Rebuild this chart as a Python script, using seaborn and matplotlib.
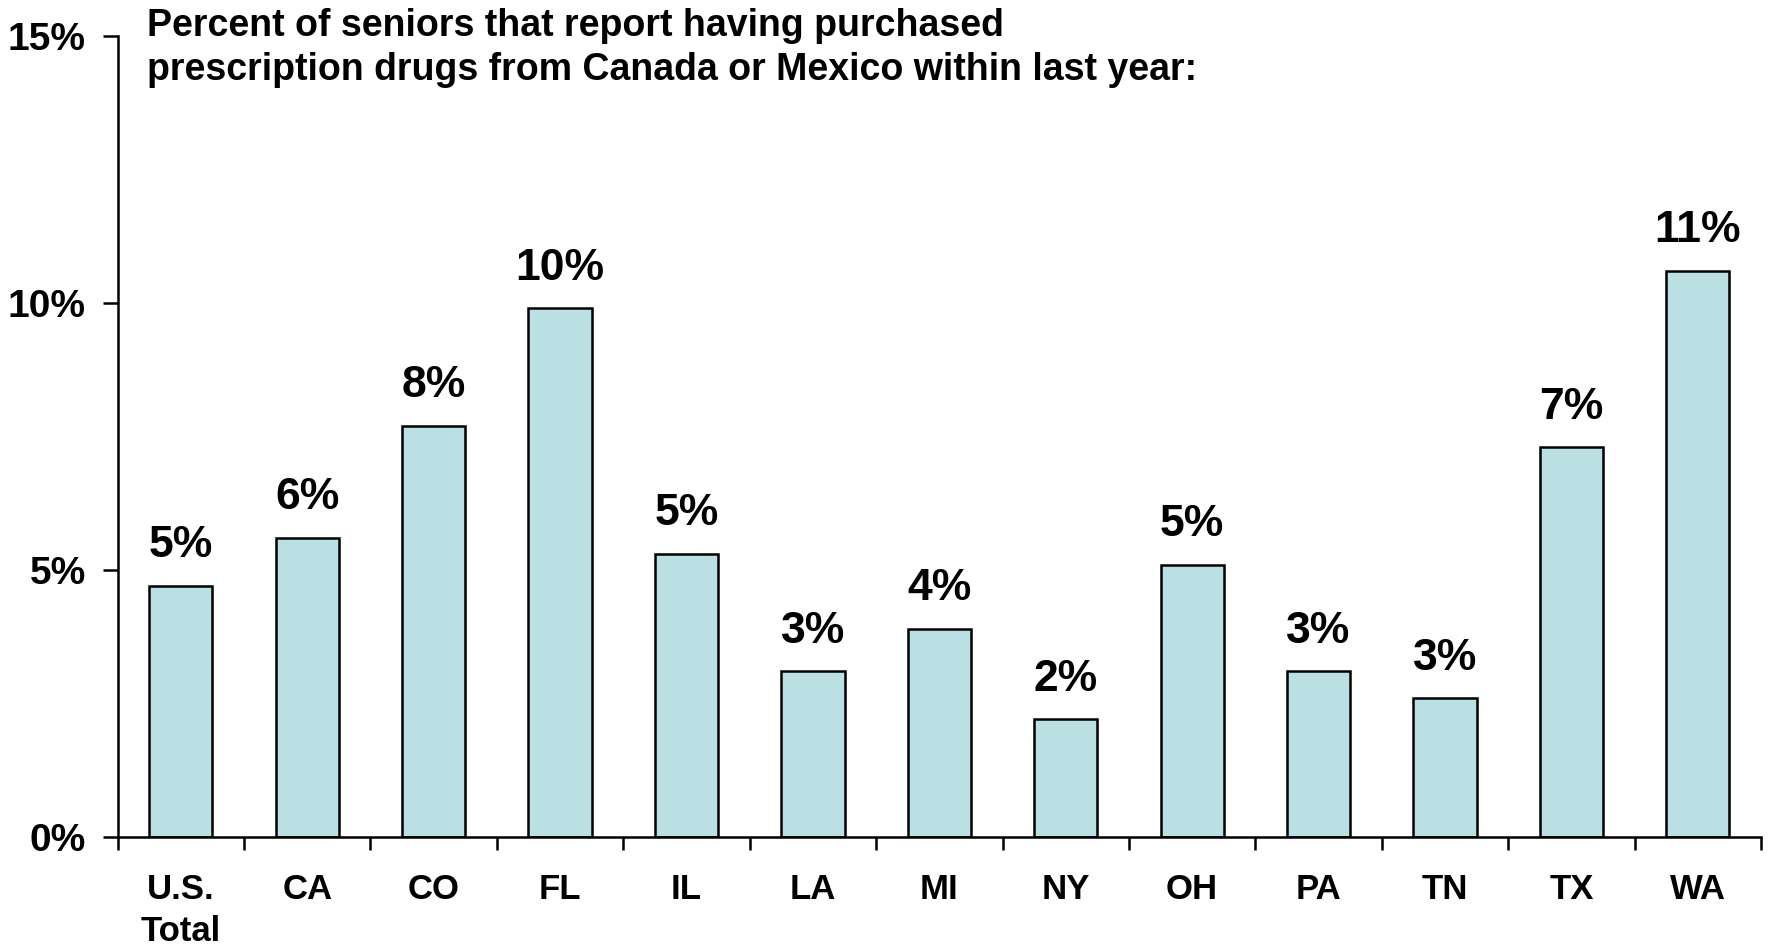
import matplotlib
matplotlib.use("Agg")
import matplotlib.pyplot as plt
import pandas as pd
import seaborn as sns
from matplotlib.ticker import FixedLocator, FuncFormatter

STATES = ["U.S.\nTotal", "CA", "CO", "FL", "IL", "LA", "MI", "NY", "OH", "PA", "TN", "TX", "WA"]
PERCENT = [4.7, 5.6, 7.7, 9.9, 5.3, 3.1, 3.9, 2.2, 5.1, 3.1, 2.6, 7.3, 10.6]
LABELS = ["5%", "6%", "8%", "10%", "5%", "3%", "4%", "2%", "5%", "3%", "3%", "7%", "11%"]
TITLE = "Percent of seniors that report having purchased\nprescription drugs from Canada or Mexico within last year:"

sns.set_style("white")
plt.rcParams["font.family"] = ["Liberation Sans", "DejaVu Sans"]
plt.rcParams["font.weight"] = "bold"
plt.rcParams["text.color"] = "black"
plt.rcParams["xtick.color"] = "black"
plt.rcParams["ytick.color"] = "black"
plt.rcParams["xtick.labelcolor"] = "black"
plt.rcParams["ytick.labelcolor"] = "black"

df = pd.DataFrame({"state": STATES, "pct": PERCENT})

fig = plt.figure(figsize=(17.69, 9.49), dpi=100)
ax = fig.add_axes([0.0665, 0.1183, 0.929, 0.8437])

sns.barplot(data=df, x="state", y="pct", color="#BBE0E3", saturation=1,
            width=0.5, edgecolor="black", linewidth=1.8, ax=ax)

ax.bar_label(ax.containers[0], labels=LABELS, padding=14,
             fontsize=32, fontweight="bold", color="black")

ax.set_xlim(-0.5, len(STATES) - 0.5)
ax.set_ylim(0, 15)
ax.set_yticks([0, 5, 10, 15])
ax.yaxis.set_major_formatter(FuncFormatter(lambda v, _: f"{v:.0f}%"))
ax.xaxis.set_minor_locator(FixedLocator([i - 0.5 for i in range(len(STATES) + 1)]))
ax.tick_params(axis="x", which="major", length=0, pad=26, labelsize=25)
ax.tick_params(axis="x", which="minor", length=9, width=1.8, direction="out", bottom=True)
ax.tick_params(axis="y", length=11, width=1.8, direction="out", left=True, labelsize=28, pad=12)
for lbl in ax.get_xticklabels() + ax.get_yticklabels():
    lbl.set_fontweight("bold")
for lbl in ax.get_xticklabels():
    lbl.set_linespacing(1.35)

ax.set_xlabel("")
ax.set_ylabel("")
for side in ["top", "right"]:
    ax.spines[side].set_visible(False)
for side in ["left", "bottom"]:
    ax.spines[side].set_linewidth(1.8)
    ax.spines[side].set_color("black")

fig.text(0.083, 0.992, TITLE, ha="left", va="top", fontsize=27,
         fontweight="bold", linespacing=1.3)

fig.savefig("out.png", dpi=100)
